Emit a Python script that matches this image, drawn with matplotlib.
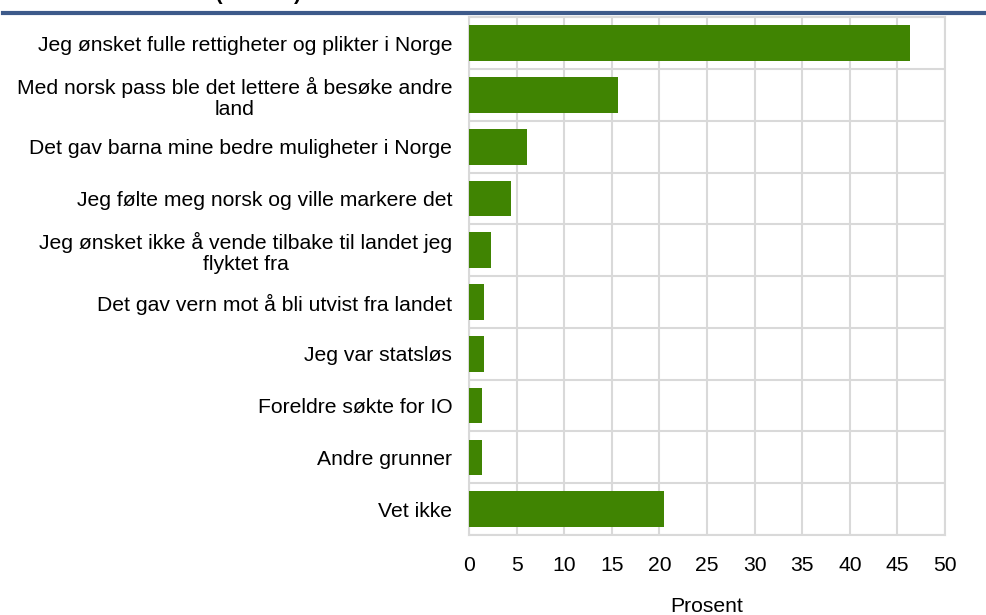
import matplotlib.pyplot as plt
import numpy as np
from matplotlib.lines import Line2D

plt.rcParams['font.family'] = ['Liberation Sans', 'DejaVu Sans']

# Reasons (top to bottom)
reasons = [
    "Jeg ønsket fulle rettigheter og plikter i Norge",
    "Med norsk pass ble det lettere å besøke andre\nland",
    "Det gav barna mine bedre muligheter i Norge",
    "Jeg følte meg norsk og ville markere det",
    "Jeg ønsket ikke å vende tilbake til landet jeg\nflyktet fra",
    "Det gav vern mot å bli utvist fra landet",
    "Jeg var statsløs",
    "Foreldre søkte for IO",
    "Andre grunner",
    "Vet ikke",
]

# Share (percent)
percent = [46.3, 15.7, 6.1, 4.4, 2.3, 1.6, 1.6, 1.4, 1.4, 20.5]

x_ticks = [0, 5, 10, 15, 20, 25, 30, 35, 40, 45, 50]

fig = plt.figure(figsize=(9.87, 6.15), dpi=100)
ax = fig.add_axes([0.4752, 0.1301, 0.4823, 0.8415])

y = np.arange(len(reasons))
ax.barh(y, percent, height=0.69, color="#408402", zorder=3)

ax.set_ylim(len(reasons) - 0.5, -0.5)
ax.set_xlim(0, 50)
ax.set_xticks(x_ticks)
ax.set_yticks(y)
ax.set_yticklabels(reasons, fontsize=15.2, multialignment="center", linespacing=1.12)
ax.set_yticks(np.arange(len(reasons) + 1) - 0.5, minor=True)
ax.tick_params(axis="both", length=0)
ax.tick_params(axis="x", labelsize=15.2, pad=15)
ax.tick_params(axis="y", which="minor", length=0)
ax.tick_params(axis="y", pad=12)

ax.grid(True, axis="x", color="#d9d9d9", linewidth=1.5, zorder=0)
ax.grid(True, axis="y", which="minor", color="#d9d9d9", linewidth=1.5, zorder=0)
for s in ax.spines.values():
    s.set_color("#d9d9d9")
    s.set_linewidth(1.5)

ax.set_xlabel("Prosent", fontsize=15.2, labelpad=16)

# blue rule under the (cut off) heading
fig.add_artist(Line2D([0.003, 1.0], [1 - 13.3 / 615] * 2, color="#3d5a8a", linewidth=3))
fig.text(0.15, 1.0 - 4 / 615, "Vektet (n=2046)", fontsize=15, fontweight="bold", va="bottom")

plt.savefig("out.png", dpi=100)
